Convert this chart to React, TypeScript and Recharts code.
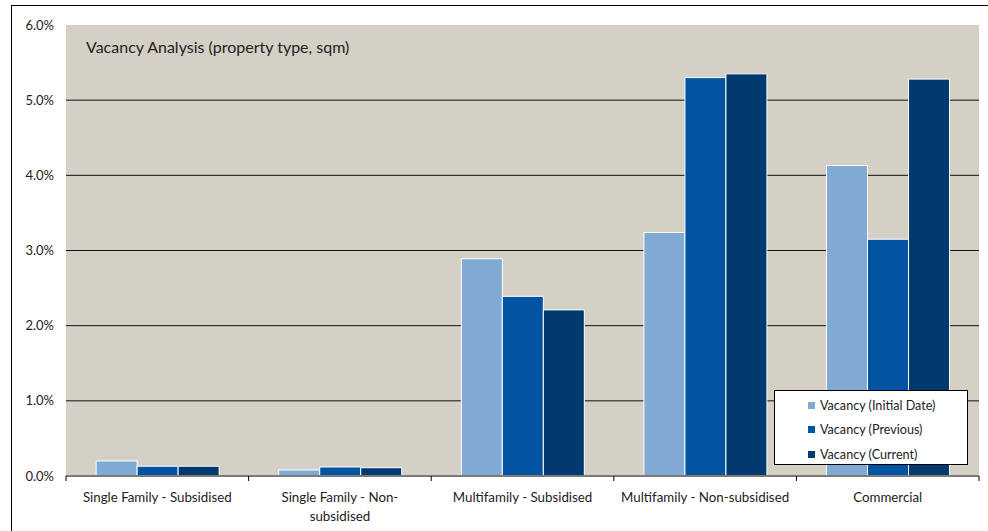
import React from 'react';
import { BarChart, Bar, XAxis, YAxis, CartesianGrid } from 'recharts';

const categories = [
  'Single Family - Subsidised',
  'Single Family - Non-subsidised',
  'Multifamily - Subsidised',
  'Multifamily - Non-subsidised',
  'Commercial',
];
const categoryLabelLines = [
  ['Single Family - Subsidised'],
  ['Single Family - Non-', 'subsidised'],
  ['Multifamily - Subsidised'],
  ['Multifamily - Non-subsidised'],
  ['Commercial'],
];
const initialDate = [0.2, 0.08, 2.89, 3.24, 4.13];
const previous = [0.13, 0.12, 2.39, 5.3, 3.15];
const current = [0.13, 0.11, 2.21, 5.35, 5.28];
const yTicks = [0, 1, 2, 3, 4, 5, 6];
const gridValues = [1, 2, 3, 4, 5];
const seriesNames = ['Vacancy (Initial Date)', 'Vacancy (Previous)', 'Vacancy (Current)'];
const seriesColors = ['#80AAD3', '#0054A1', '#003A6F'];
const title = 'Vacancy Analysis (property type, sqm)';

const data = categories.map((c, i) => ({
  name: c,
  initial: initialDate[i],
  previous: previous[i],
  current: current[i],
}));
const keys = ['initial', 'previous', 'current'];

const FONT = 'Lato, "Open Sans", sans-serif';

const XTick = (props: any) => {
  const { x, y, payload, index } = props;
  const off = payload && payload.offset ? payload.offset : 0;
  const idx = typeof payload.index === 'number' ? payload.index : index;
  const lines = categoryLabelLines[idx] || [String(payload.value)];
  const isLast = idx === categories.length - 1;
  return (
    <g>
      <line x1={x - off} x2={x - off} y1={y} y2={y + 5} stroke="#000" strokeWidth={1} />
      {isLast && <line x1={x + off} x2={x + off} y1={y} y2={y + 5} stroke="#000" strokeWidth={1} />}
      {lines.map((l: string, i: number) => (
        <text
          key={i}
          x={x}
          y={y + 26 + i * 19}
          textAnchor="middle"
          fontSize={13.3}
          fontFamily={FONT}
          fill="#222"
        >
          {l}
        </text>
      ))}
    </g>
  );
};

export default function App() {
  return (
    <div
      style={{
        position: 'absolute',
        left: 0,
        top: 0,
        width: 988,
        height: 531,
        background: '#fff',
        overflow: 'hidden',
        fontFamily: FONT,
      }}
    >
      <div
        style={{
          position: 'absolute',
          left: 11,
          top: 5,
          width: 990,
          height: 540,
          borderLeft: '1px solid #000',
          borderTop: '1px solid #000',
        }}
      />
      <div style={{ position: 'absolute', left: 0, top: 0 }}>
        <BarChart
          width={988}
          height={531}
          data={data}
          margin={{ top: 25, right: 9, bottom: 25, left: 11 }}
          barCategoryGap="16.5%"
          barGap={0}
        >
          <CartesianGrid
            vertical={false}
            fill="#D4D0C6"
            fillOpacity={1}
            stroke="#111"
            strokeWidth={1}
            horizontalValues={gridValues}
          />
          <YAxis
            width={55}
            domain={[0, 6]}
            ticks={yTicks}
            axisLine={false}
            tickLine={false}
            tickMargin={6}
            tick={{ fontSize: 13, fontFamily: FONT, fill: '#222' }}
            tickFormatter={(v: number) => v.toFixed(1) + '%'}
          />
          <XAxis
            dataKey="name"
            height={30}
            tickSize={0}
            tickMargin={0}
            interval={0}
            axisLine={{ stroke: '#7a7a7a', strokeWidth: 2 }}
            tickLine={false}
            tick={<XTick />}
          />
          {keys.map((k, i) => (
            <Bar
              key={k}
              dataKey={k}
              name={seriesNames[i]}
              fill={seriesColors[i]}
              stroke="#fff"
              strokeWidth={1}
              isAnimationActive={false}
            />
          ))}
        </BarChart>
      </div>
      <div
        style={{
          position: 'absolute',
          left: 86,
          top: 36,
          fontSize: 16,
          color: '#222',
          whiteSpace: 'nowrap',
          lineHeight: '22px',
        }}
      >
        {title}
      </div>
      <div
        style={{
          position: 'absolute',
          left: 774,
          top: 390,
          width: 194,
          height: 75,
          background: '#fff',
          border: '1px solid #000',
          boxSizing: 'border-box',
        }}
      >
        {seriesNames.map((n, i) => (
          <div
            key={n}
            style={{
              position: 'absolute',
              left: 33,
              top: 5 + i * 24.5,
              height: 18,
              display: 'flex',
              alignItems: 'center',
              fontSize: 12.6,
              color: '#222',
              whiteSpace: 'nowrap',
            }}
          >
            <span
              style={{
                display: 'inline-block',
                width: 7,
                height: 7,
                background: seriesColors[i],
                marginRight: 5,
              }}
            />
            {n}
          </div>
        ))}
      </div>
    </div>
  );
}
